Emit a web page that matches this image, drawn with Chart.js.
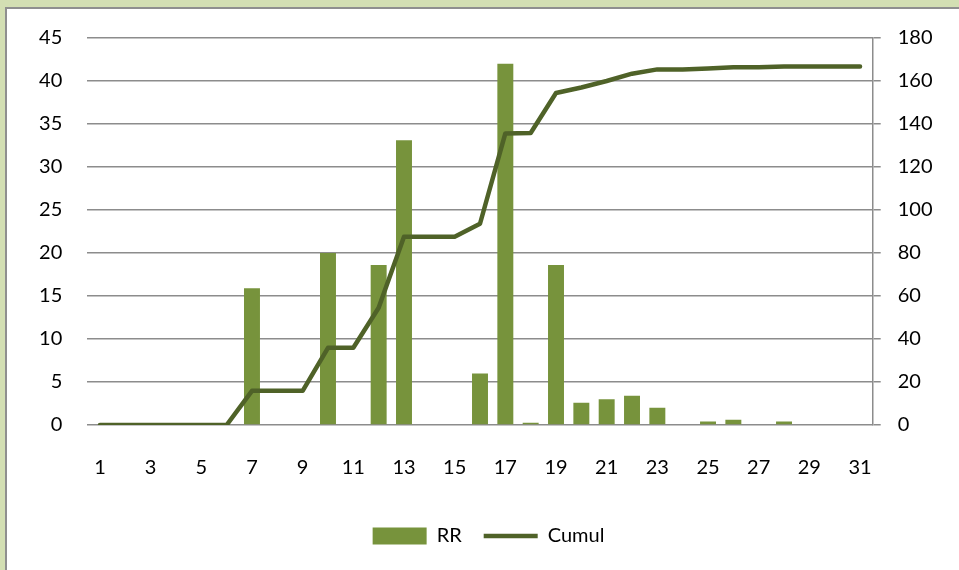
<!DOCTYPE html>
<html>
<head>
<meta charset="utf-8">
<script src="https://cdn.jsdelivr.net/npm/chart.js@4"></script>
<style>
  html, body { margin: 0; padding: 0; }
  body { width: 959px; height: 570px; background: #d3dfb3; position: relative; overflow: hidden; }
  #panel { position: absolute; left: 5px; top: 7px; width: 1000px; height: 620px; background: #fff; border: 2px solid #8f8f8f; }
  #wrap { position: absolute; left: 0; top: 0; width: 959px; height: 570px; }
</style>
</head>
<body>
<div id="panel"></div>
<div id="wrap"><canvas id="chart" width="959" height="570"></canvas></div>
<script>
// days 1..31
const days = ["1","2","3","4","5","6","7","8","9","10","11","12","13","14","15","16",
  "17","18","19","20","21","22","23","24","25","26","27","28","29","30","31"];

// RR per day (left axis)
const rr = [0, 0, 0, 0, 0, 0, 15.9, 0, 0, 20.0, 0, 18.6, 33.1, 0, 0, 6.0,
  42.0, 0.25, 18.6, 2.6, 3.0, 3.4, 2.0, 0, 0.4, 0.6, 0, 0.4, 0, 0, 0];

// cumulative (right axis)
const cumul = [0, 0, 0, 0, 0, 0, 15.9, 15.9, 15.9, 35.9, 35.9, 54.5, 87.6, 87.6, 87.6, 93.6,
  135.6, 135.8, 154.4, 157.0, 160.0, 163.4, 165.4, 165.4, 165.8, 166.4, 166.4, 166.8, 166.8, 166.8, 166.8];

const leftTicks = { min: 0, max: 45, step: 5 };
const rightTicks = { min: 0, max: 180, step: 20 };

const gridGrey = "#8c8c8c";
const tickFont = { family: "Lato", size: 20 };

// legend sits a bit right of centre in the original
const nudgeLegend = {
  id: "nudgeLegend",
  afterLayout(chart) {
    chart.legend.left += 9;
    chart.legend.right += 9;
  },
};

const ctx = document.getElementById("chart");
new Chart(ctx, {
  data: {
    labels: days,
    datasets: [
      {
        type: "line",
        label: "Cumul",
        data: cumul,
        yAxisID: "y1",
        borderColor: "#4f6228",
        backgroundColor: "#4f6228",
        borderWidth: 4.5,
        borderCapStyle: "round",
        borderJoinStyle: "round",
        pointRadius: 0,
        tension: 0,
        pointStyle: "line",
        order: 0,
      },
      {
        type: "bar",
        label: "RR",
        data: rr,
        yAxisID: "y",
        backgroundColor: "#77933c",
        borderWidth: 0,
        categoryPercentage: 1,
        barPercentage: 0.63,
        pointStyle: "rect",
        order: 1,
      },
    ],
  },
  options: {
    responsive: false,
    animation: false,
    maintainAspectRatio: false,
    layout: { padding: { top: 38, left: 0, right: 0, bottom: 14 } },
    scales: {
      x: {
        offset: true,
        grid: { display: false },
        border: { display: false },
        ticks: {
          autoSkip: false,
          maxRotation: 0,
          padding: 23,
          color: "#000",
          font: tickFont,
          callback: function (v, i) { return i % 2 === 0 ? days[i] : ""; },
        },
        afterFit: function (s) { s.height = 79; },
      },
      y: {
        position: "left",
        min: leftTicks.min,
        max: leftTicks.max,
        ticks: { stepSize: leftTicks.step, padding: 25, color: "#000", font: tickFont },
        grid: { color: gridGrey, lineWidth: 1.5, drawTicks: false },
        border: { display: false },
        afterFit: function (s) { s.width = 87.3; },
      },
      y1: {
        position: "right",
        min: rightTicks.min,
        max: rightTicks.max,
        ticks: { stepSize: rightTicks.step, padding: 17, color: "#000", font: tickFont },
        grid: { drawOnChartArea: false, color: gridGrey, lineWidth: 1.5, tickLength: 8 },
        border: { display: true, color: gridGrey, width: 1.5 },
        afterFit: function (s) { s.width = 86.3; },
      },
    },
    plugins: {
      tooltip: { enabled: false },
      legend: {
        position: "bottom",
        reverse: true,
        labels: {
          usePointStyle: true,
          pointStyleWidth: 54,
          boxHeight: 17,
          padding: 22,
          color: "#000",
          font: tickFont,
        },
      },
    },
  },
  plugins: [nudgeLegend],
});
</script>
</body>
</html>
